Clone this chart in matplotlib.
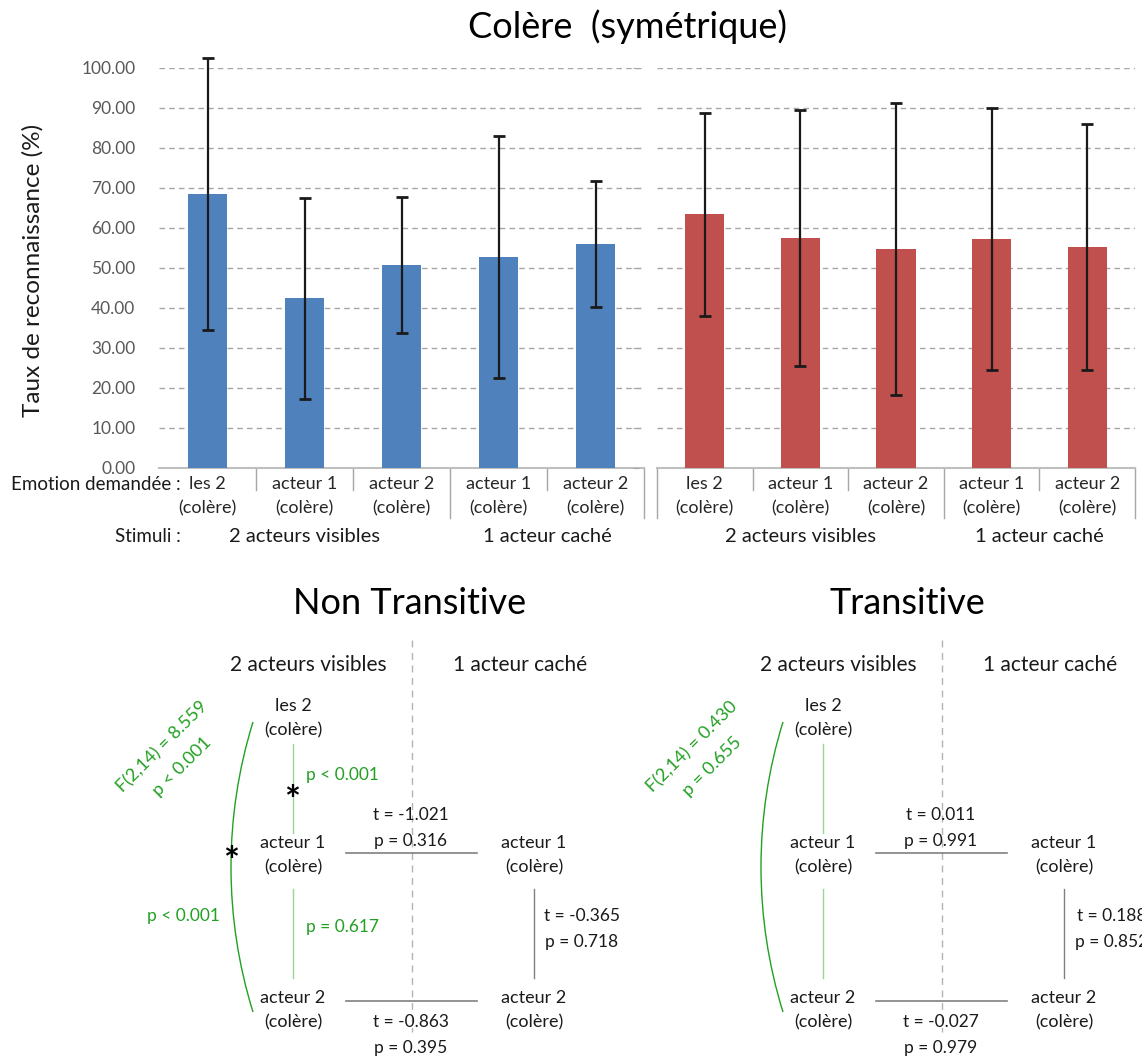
import math
import matplotlib
matplotlib.use("Agg")
import matplotlib.pyplot as plt
from matplotlib.patches import Arc
from matplotlib.ticker import FormatStrFormatter
from matplotlib.transforms import blended_transform_factory

plt.rcParams['font.family'] = ['Lato', 'DejaVu Sans']

W, H = 1142, 1058

# ---- bar chart data ----
categories = ["les 2\n(colère)", "acteur 1\n(colère)", "acteur 2\n(colère)",
              "acteur 1\n(colère)", "acteur 2\n(colère)"]
groups = ["2 acteurs visibles", "1 acteur caché"]
y_ticks = [0, 10, 20, 30, 40, 50, 60, 70, 80, 90, 100]

nt_means = [68.6, 42.4, 50.8, 52.7, 56.0]   # non transitive (blue)
nt_sd = [34.0, 25.2, 17.0, 30.2, 15.7]
tr_means = [63.4, 57.4, 54.7, 57.2, 55.2]   # transitive (red)
tr_sd = [25.4, 32.0, 36.5, 32.7, 30.7]

# ---- diagram texts ----
panel_titles = ["Non Transitive", "Transitive"]
anova_labels = ["F(2,14) = 8.559\np < 0.001", "F(2,14) = 0.430\np = 0.655"]
test_actor1 = ["t = -1.021\np = 0.316", "t = 0.011\np = 0.991"]
test_actor2 = ["t = -0.863\np = 0.395", "t = -0.027\np = 0.979"]
test_hidden = ["t = -0.365\np = 0.718", "t = 0.188\np = 0.852"]
posthoc_labels = ["p < 0.001", "p = 0.617", "p < 0.001"]

GREEN = '#22a022'
LIGHT_GREEN = '#9ad69a'
GRAY = '#808080'
TXT = '#1a1a1a'

fig = plt.figure(figsize=(W / 100, H / 100), dpi=100)

# background axes in pixel coordinates for free text / diagram lines
bg = fig.add_axes([0, 0, 1, 1])
bg.set_xlim(0, W)
bg.set_ylim(H, 0)
bg.axis('off')


def px_axes(x0, x1, y0, y1):
    return fig.add_axes([x0 / W, 1 - y1 / H, (x1 - x0) / W, (y1 - y0) / H])


def bar_panel(ax, means, sd, color, show_labels, left_edge):
    x = list(range(len(means)))
    ax.bar(x, means, width=0.41, color=color, zorder=3)
    eb = ax.errorbar(x, means, yerr=sd, fmt='none', ecolor=TXT, elinewidth=1.6,
                     capsize=4.5, capthick=2, zorder=4)
    for art in eb.lines[1] + eb.lines[2]:
        art.set_clip_on(False)
    ax.set_xlim(-0.5, len(means) - 0.5)
    ax.set_ylim(0, 100)
    ax.set_yticks(y_ticks)
    ax.yaxis.set_major_formatter(FormatStrFormatter('%.2f'))
    ax.yaxis.grid(True, linestyle=(0, (4, 3)), color='#a6a6a6', lw=1)
    ax.set_axisbelow(True)
    for s in ['top', 'right', 'left']:
        ax.spines[s].set_visible(False)
    ax.spines['bottom'].set_color('#bfbfbf')
    ax.spines['bottom'].set_linewidth(1.5)
    ax.set_xticks(x)
    ax.set_xticklabels(categories, linespacing=1.6)
    ax.tick_params(axis='x', length=0, pad=6, labelsize=13, labelcolor='#262626')
    if show_labels:
        ax.tick_params(axis='y', length=0, pad=17, labelsize=12.5, labelcolor='#595959')
    else:
        ax.spines['left'].set_position(('outward', 13))
        ax.tick_params(axis='y', length=4, color='#a6a6a6', labelleft=False)
    trans = blended_transform_factory(ax.transData, ax.transAxes)
    bounds = [(0.5, False), (1.5, False), (2.5, True), (3.5, False), (4.5, True)]
    if left_edge:
        bounds.append((-0.5, True))
    for b, long in bounds:
        ax.plot([b, b], [0, -0.125 if long else -0.055], transform=trans,
                color='#a6a6a6', lw=1, clip_on=False)
    ax.text(1, -0.172, groups[0], transform=trans, ha='center', va='center',
            fontsize=14.5, color=TXT)
    ax.text(3.5, -0.172, groups[1], transform=trans, ha='center', va='center',
            fontsize=14.5, color=TXT)


ax1 = px_axes(159, 644, 68, 468)
bar_panel(ax1, nt_means, nt_sd, '#4f81bd', True, False)
ax2 = px_axes(657, 1135, 68, 468)
bar_panel(ax2, tr_means, tr_sd, '#c0504d', False, True)

bg.text(628, 27, "Colère  (symétrique)", fontsize=26, ha='center', va='center', color='black')
bg.text(33, 270, "Taux de reconnaissance (%)", fontsize=17.5, rotation=90,
        ha='center', va='center', color=TXT)
bg.text(181, 484, "Emotion demandée :", fontsize=13.5, ha='right', va='center', color=TXT)
bg.text(181, 537, "Stimuli :", fontsize=13.5, ha='right', va='center', color=TXT)


def node(x, y, label):
    bg.text(x, y, label + "\n(colère)", ha='center', va='center', fontsize=13,
            linespacing=1.6, color=TXT)


def diagram(i, dx, title_x):
    bg.text(title_x, 603, panel_titles[i], fontsize=26, ha='center', va='center', color='black')
    bg.text(308 + dx, 665, groups[0], fontsize=15, ha='center', va='center', color=TXT)
    bg.text(520 + dx, 665, groups[1], fontsize=15, ha='center', va='center', color=TXT)
    bg.plot([412 + dx, 412 + dx], [640, 1032], color='#b3b3b3', lw=1, dashes=(5, 4))

    node(293 + dx, 718, "les 2")
    node(293 + dx, 855, "acteur 1")
    node(293 + dx, 1010, "acteur 2")
    node(534 + dx, 855, "acteur 1")
    node(534 + dx, 1010, "acteur 2")

    # within "2 acteurs visibles"
    bg.plot([293 + dx, 293 + dx], [744, 833], color=LIGHT_GREEN, lw=1)
    bg.plot([293 + dx, 293 + dx], [889, 978], color=LIGHT_GREEN, lw=1)
    # hidden actor pair
    bg.plot([534 + dx, 534 + dx], [889, 978], color=GRAY, lw=1)
    bg.text(582 + dx, 929, test_hidden[i], ha='center', va='center', fontsize=12.5,
            linespacing=1.7, color=TXT)
    # visible vs hidden
    bg.plot([346 + dx, 477 + dx], [853, 853], color=GRAY, lw=1.2)
    bg.plot([346 + dx, 477 + dx], [1001, 1001], color=GRAY, lw=1.2)
    bg.text(411 + dx, 828, test_actor1[i], ha='center', va='center', fontsize=12.5,
            linespacing=1.7, color=TXT)
    bg.text(411 + dx, 1035, test_actor2[i], ha='center', va='center', fontsize=12.5,
            linespacing=1.7, color=TXT)

    # ANOVA arc
    top, bot, xe, xm = 722, 1012, 253 + dx, 231 + dx
    half = (bot - top) / 2
    r = ((xe - xm) ** 2 + half ** 2) / (2 * (xe - xm))
    th = math.degrees(math.asin(half / r))
    bg.add_patch(Arc((xm + r, (top + bot) / 2), 2 * r, 2 * r, theta1=180 - th,
                     theta2=180 + th, color=GREEN, lw=1))
    bg.text(172 + dx, 757, anova_labels[i], rotation=45, rotation_mode='anchor',
            ha='center', va='center', fontsize=13, linespacing=1.9, color=GREEN,
            multialignment='center')


diagram(0, 0, 410)
diagram(1, 530, 907)

# post-hoc labels (non transitive only)
bg.text(306, 775, posthoc_labels[0], ha='left', va='center', fontsize=12.5, color=GREEN)
bg.text(306, 927, posthoc_labels[1], ha='left', va='center', fontsize=12.5, color=GREEN)
bg.text(183, 916, posthoc_labels[2], ha='center', va='center', fontsize=12.5, color=GREEN)
bg.text(292, 802, "*", ha='center', va='center', fontsize=27, fontweight='bold', color='black')
bg.text(231, 863, "*", ha='center', va='center', fontsize=27, fontweight='bold', color='black')

fig.savefig('out.png', dpi=100)
